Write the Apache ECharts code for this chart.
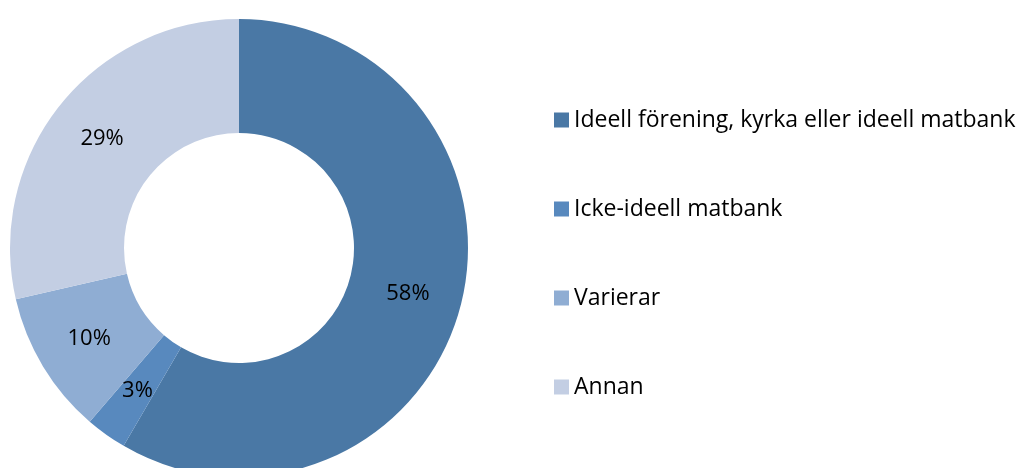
<!DOCTYPE html>
<html>
<head>
<meta charset="utf-8">
<script src="https://cdn.jsdelivr.net/npm/echarts@6/dist/echarts.min.js"></script>
<style>
  html, body { margin: 0; padding: 0; background: #fff; }
  #main { width: 1028px; height: 468px; }
</style>
</head>
<body>
<div id="main"></div>
<script>
const categories = ['Ideell förening, kyrka eller ideell matbank', 'Icke-ideell matbank', 'Varierar', 'Annan'];
const values = [58.4, 2.9, 10.1, 28.6];
const colors = ['#4a78a5', '#5889be', '#8fadd3', '#c3cee3'];

const chart = echarts.init(document.getElementById('main'));

const option = {
  backgroundColor: '#ffffff',
  animation: false,
  color: colors,
  legend: {
    orient: 'vertical',
    left: 549,
    top: 103,
    icon: 'rect',
    itemWidth: 15,
    itemHeight: 15,
    itemGap: 65,
    textStyle: {
      fontFamily: 'Open Sans',
      fontSize: 23,
      color: '#000',
      lineHeight: 24
    },
    data: categories
  },
  series: [
    {
      type: 'pie',
      center: [239, 248],
      radius: [115, 229],
      startAngle: 90,
      clockwise: true,
      label: {
        position: 'inside',
        formatter: p => Math.round(p.value) + '%',
        fontFamily: 'Open Sans',
        fontSize: 22,
        color: '#000'
      },
      labelLine: { show: false },
      emphasis: { disabled: true },
      data: categories.map((name, i) => ({ name: name, value: values[i] }))
    }
  ]
};

chart.setOption(option);
</script>
</body>
</html>
